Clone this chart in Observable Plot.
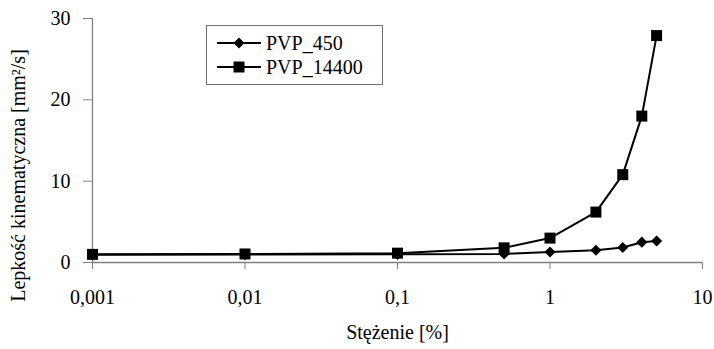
<!DOCTYPE html>
<html>
<head>
<meta charset="utf-8">
<script src="https://cdn.jsdelivr.net/npm/d3@7"></script>
<script src="https://cdn.jsdelivr.net/npm/@observablehq/plot@0.6"></script>
</head>
<body style="margin:0;padding:0;background:#fff;font-family:'Liberation Serif',serif">
<div id="wrap" style="position:relative;width:714px;height:349px"></div>
<script>
// Concentration of PVP solutions [%] and the kinematic viscosity measured for each
const stezenie = [0.001, 0.01, 0.1, 0.5, 1, 2, 3, 4, 5];
const pvp450 = [0.95, 0.97, 1.0, 1.05, 1.3, 1.5, 1.85, 2.5, 2.65];
const pvp14400 = [1.0, 1.05, 1.15, 1.8, 3.0, 6.2, 10.8, 18.0, 27.9];

const seriesNames = ["PVP_450", "PVP_14400"];
const xTicks = [0.001, 0.01, 0.1, 1, 10];
const yTicks = [0, 10, 20, 30];
const xLabel = "Stężenie [%]";
const yLabel = "Lepkość kinematyczna [mm²/s]";

const rows450 = stezenie.map((c, i) => ({c, v: pvp450[i]}));
const rows14400 = stezenie.map((c, i) => ({c, v: pvp14400[i]}));

const FONT = "'Liberation Serif', 'Times New Roman', serif";
const fmt = d => String(d).replace(".", ",");
const axisColor = "#808080";

const chart = Plot.plot({
  width: 714,
  height: 349,
  marginLeft: 92,
  marginRight: 12,
  marginTop: 18,
  marginBottom: 87,
  style: {fontFamily: FONT, fontSize: "20px", color: "#000", background: "#fff"},
  x: {type: "log", domain: [0.001, 10], label: null},
  y: {domain: [0, 30], label: null},
  marks: [
    Plot.axisX({ticks: xTicks, tickFormat: fmt, tickSize: 7, tickPadding: 20, stroke: axisColor, strokeOpacity: 1, fill: "#000"}),
    Plot.axisY({ticks: yTicks, tickSize: 9, tickPadding: 13, stroke: axisColor, strokeOpacity: 1, fill: "#000"}),
    Plot.ruleY([0], {stroke: axisColor, strokeWidth: 1.3}),
    Plot.ruleX([0.001], {stroke: axisColor, strokeWidth: 1.3}),
    Plot.line(rows450, {x: "c", y: "v", stroke: "#000", strokeWidth: 2}),
    Plot.line(rows14400, {x: "c", y: "v", stroke: "#000", strokeWidth: 2}),
    Plot.dot(rows450, {x: "c", y: "v", symbol: "diamond2", r: 5, fill: "#000", stroke: "none"}),
    Plot.dot(rows14400, {x: "c", y: "v", symbol: "square", r: 6.2, fill: "#000", stroke: "none"}),
    Plot.text([xLabel], {frameAnchor: "bottom", dy: 76, fontSize: 20, fill: "#000"}),
    // Vertical axis title, centred on the whole figure height
    Plot.text([yLabel], {frameAnchor: "left", textAnchor: "middle", rotate: -90, dx: -74, dy: 35, fontSize: 20, fill: "#000"})
  ]
});
chart.setAttribute("font-family", FONT);

const wrap = document.getElementById("wrap");
wrap.appendChild(chart);

// Legend box drawn inside the plot area
const legend = d3.select(wrap).append("div")
  .style("position", "absolute").style("left", "206px").style("top", "25px")
  .style("width", "177px").style("height", "60px")
  .style("border", "1px solid #707070").style("background", "#fff")
  .style("box-sizing", "border-box")
  .style("font-family", FONT).style("font-size", "20px").style("color", "#000");

seriesNames.forEach((name, i) => {
  const row = legend.append("div")
    .style("position", "absolute").style("left", "10px").style("top", (5 + i * 24) + "px")
    .style("height", "24px").style("display", "flex").style("align-items", "center")
    .style("white-space", "nowrap");
  const s = row.append("svg").attr("width", 44).attr("height", 16)
    .style("display", "block").style("margin-right", "5px");
  s.append("line").attr("x1", 0).attr("x2", 44).attr("y1", 8).attr("y2", 8)
    .attr("stroke", "#000").attr("stroke-width", 2);
  const size = i === 0 ? Math.PI * 25 : Math.PI * 6.2 * 6.2;
  const sym = i === 0 ? d3.symbolDiamond2 : d3.symbolSquare;
  s.append("path").attr("d", d3.symbol(sym, size)()).attr("transform", "translate(22,8)").attr("fill", "#000");
  row.append("span").text(name);
});
</script>
</body>
</html>
